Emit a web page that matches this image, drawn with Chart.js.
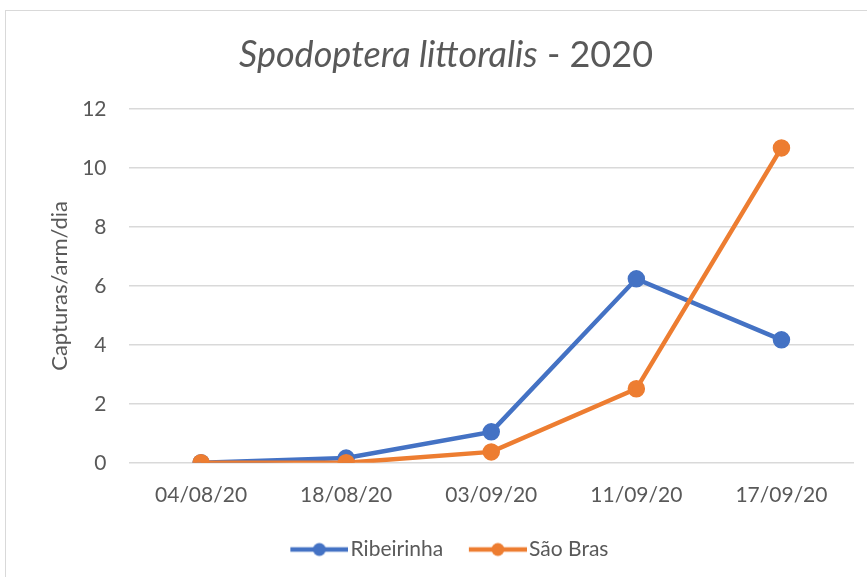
<!DOCTYPE html>
<html>
<head>
<meta charset="utf-8">
<script src="https://cdn.jsdelivr.net/npm/chart.js@4.4.1/dist/chart.umd.min.js"></script>
<style>
  body { margin: 0; background: #fff; overflow: hidden; }
  #frame { position: absolute; left: 5px; top: 10px; width: 880px; height: 570px;
           border-left: 1px solid #d9d9d9; border-top: 1px solid #d9d9d9; }
</style>
</head>
<body>
<div id="frame"><canvas id="chart" width="880" height="570"></canvas></div>
<script>
var dates = ["04/08/20", "18/08/20", "03/09/20", "11/09/20", "17/09/20"];
var ribeirinha = [0, 0.16, 1.05, 6.24, 4.17];
var saoBras = [0, 0, 0.37, 2.51, 10.68];
var yTicks = [0, 2, 4, 6, 8, 10, 12];

var blue = '#4472C4';
var orange = '#ED7D31';
var txt = '#595959';
var fontName = 'Lato, "Open Sans", sans-serif';

// little line+dot picture for the legend, like Excel
// (transparent room on the left gives the gap between items)
var legendIcon = function(color)
{
	var c = document.createElement('canvas');
	c.width = 73; c.height = 16;
	var g = c.getContext('2d');
	g.strokeStyle = color;
	g.lineWidth = 4.5;
	g.beginPath(); g.moveTo(15, 8); g.lineTo(73, 8); g.stroke();
	g.fillStyle = color;
	g.beginPath(); g.arc(44, 8, 6.5, 0, Math.PI * 2); g.fill();
	return c;
}

// title with the species name in italics
var mixedTitle = {
	id: 'mixedTitle',
	afterDraw: function(chart) {
		var ctx = chart.ctx;
		var a = 'Spodoptera littoralis', b = ' - 2020';
		var size = 36;
		ctx.save();
		ctx.fillStyle = txt;
		ctx.textBaseline = 'middle';
		ctx.font = 'italic ' + size + 'px ' + fontName;
		var wa = ctx.measureText(a).width;
		ctx.font = size + 'px ' + fontName;
		var wb = ctx.measureText(b).width;
		var x = chart.width / 2 - (wa + wb) / 2;
		ctx.font = 'italic ' + size + 'px ' + fontName;
		ctx.fillText(a, x, 44);
		ctx.font = size + 'px ' + fontName;
		ctx.fillText(b, x + wa, 44);
		ctx.restore();
	}
}

new Chart(document.getElementById('chart'), {
	type: 'line',
	data: {
		labels: dates,
		datasets: [
			{
				label: 'Ribeirinha',
				data: ribeirinha,
				order: 1,
				borderColor: blue,
				backgroundColor: blue,
				borderWidth: 4.5,
				pointRadius: 6.5,
				pointHoverRadius: 6.5,
				pointStyle: 'circle',
				tension: 0
			},
			{
				label: 'São Bras',
				data: saoBras,
				order: 0,
				borderColor: orange,
				backgroundColor: orange,
				borderWidth: 4.5,
				pointRadius: 6.5,
				pointHoverRadius: 6.5,
				pointStyle: 'circle',
				tension: 0
			}
		]
	},
	options: {
		responsive: false,
		animation: false,
		layout: { padding: { left: 32, right: 32, top: 98, bottom: 11 } },
		plugins: {
			title: { display: false },
			tooltip: { enabled: false },
			legend: {
				position: 'bottom',
				labels: {
					color: txt,
					font: { family: fontName, size: 21 },
					usePointStyle: true,
					pointStyleWidth: 56.5,
					padding: 19,
					generateLabels: function(chart) {
						return chart.data.datasets.map(function(ds, i) {
							return {
								text: ds.label,
								pointStyle: legendIcon(ds.borderColor),
								fillStyle: ds.borderColor,
								strokeStyle: ds.borderColor,
								lineWidth: 0,
								fontColor: txt,
								datasetIndex: i
							};
						});
					}
				}
			}
		},
		scales: {
			x: {
				offset: true,
				grid: { display: false },
				border: { display: false },
				ticks: { color: txt, font: { family: fontName, size: 21 }, padding: 12, maxRotation: 0 }
			},
			y: {
				min: 0,
				max: 12,
				afterBuildTicks: function(scale) {
					scale.ticks = yTicks.map(function(v) { return { value: v }; });
				},
				afterFit: function(scale) {
					scale.width = 90.5;
				},
				grid: { color: '#d9d9d9', lineWidth: 1.5, drawTicks: false },
				border: { display: false },
				ticks: { color: txt, font: { family: fontName, size: 21 }, padding: 22 },
				title: {
					display: true,
					text: 'Capturas/arm/dia',
					color: txt,
					font: { family: fontName, size: 22 },
					padding: { top: 9, bottom: 0 }
				}
			}
		}
	},
	plugins: [mixedTitle]
});
</script>
</body>
</html>
